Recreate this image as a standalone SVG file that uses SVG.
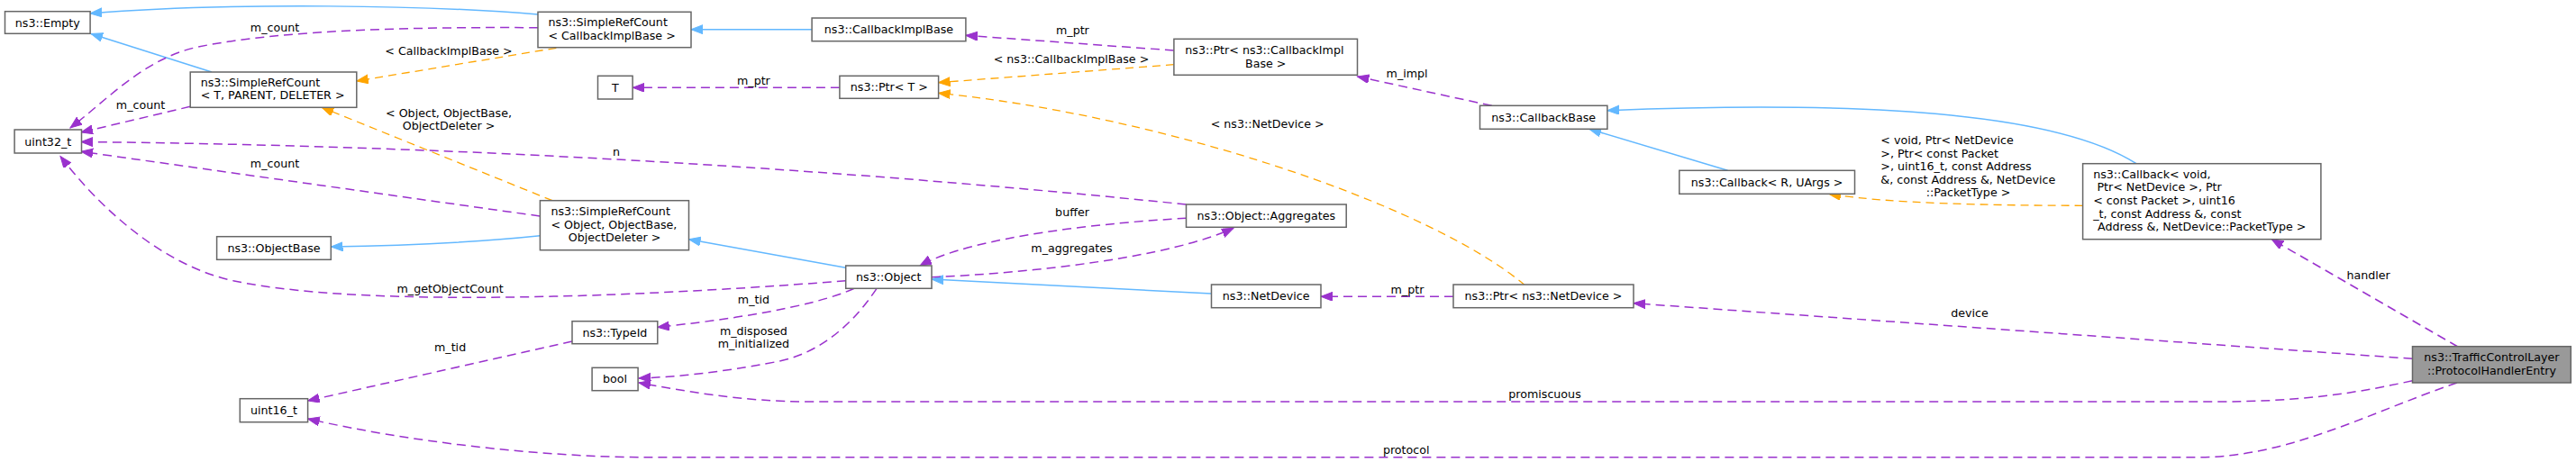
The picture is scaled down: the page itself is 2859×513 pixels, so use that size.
<svg xmlns="http://www.w3.org/2000/svg" width="2859" height="513" viewBox="0 0 2859 513">
<style>
text{font-family:"DejaVu Sans","Liberation Sans",sans-serif;font-size:12.67px;fill:#000}
.c{text-anchor:middle}
.node rect{fill:#fff;stroke:#666;stroke-width:1.5}
#n_traffic rect{fill:#999}
#edges path{fill:none}
.inh{stroke:#63b8ff;stroke-width:1.5;marker-end:url(#ab)}
.use{stroke:#9a32cd;stroke-width:1.5;stroke-dasharray:10,6;marker-end:url(#ap)}
.tpl{stroke:#ffa500;stroke-width:1.3;stroke-dasharray:9,6;marker-end:url(#ao)}
</style>
<defs>
<marker id="ab" markerUnits="userSpaceOnUse" markerWidth="15" markerHeight="11" refX="13" refY="5" orient="auto"><path d="M0,0 L13,5 L0,10 z" fill="#63b8ff" stroke="#63b8ff"/></marker>
<marker id="ap" markerUnits="userSpaceOnUse" markerWidth="15" markerHeight="11" refX="13" refY="5" orient="auto"><path d="M0,0 L13,5 L0,10 z" fill="#9a32cd" stroke="#9a32cd"/></marker>
<marker id="ao" markerUnits="userSpaceOnUse" markerWidth="15" markerHeight="11" refX="13" refY="5" orient="auto"><path d="M0,0 L13,5 L0,10 z" fill="#ffa500" stroke="#ffa500"/></marker>
</defs>
<rect width="2859" height="513" fill="#fff"/>
<g id="edges">
<path class="inh" d="M597,16 C480,6 260,2 100,15"/>
<path class="inh" d="M235,80 L101,37.5"/>
<path class="inh" d="M599.3,261.7 C520,270 440,273 367.5,274"/>
<path class="inh" d="M938.6,297.3 L764.5,265.7"/>
<path class="inh" d="M1344.3,326 L1034,310"/>
<path class="inh" d="M901.1,32.7 L767,32.7"/>
<path class="inh" d="M2371,181.7 C2290,130 2100,110 1784,122.7"/>
<path class="inh" d="M1917.5,189.3 L1764,143.3"/>
<path class="use" d="M597,30.7 C470,30 320,32 220,52 C160,65 120,110 78,142"/>
<path class="use" d="M211,118.3 L90,147"/>
<path class="use" d="M1316.5,227 Q696,163.5 90,157.5"/>
<path class="use" d="M599.3,240 L90,168.3"/>
<path class="use" d="M938.7,311.7 C760,326 420,345 260,312 C180,295 110,230 67,173.5"/>
<path class="use" d="M635,379 L341.6,445"/>
<path class="use" d="M2727,425 C2630,458 2540,507.7 2440,507.7 L720,507.7 C600,507.7 450,490 341.6,465"/>
<path class="use" d="M2677.5,422.7 C2600,440 2540,446 2460,446 L900,446 C820,446 760,434 709,425"/>
<path class="use" d="M973,320.3 C940,370 900,395 860,402 C800,413 760,418 709,420"/>
<path class="use" d="M948,320.3 C900,342 800,356 729.8,363.3"/>
<path class="use" d="M1316.5,242.3 C1230,247 1080,262 1021,295"/>
<path class="use" d="M1034,307.7 C1150,303 1300,285 1369,253.3"/>
<path class="use" d="M1613,329.3 L1466,329.3"/>
<path class="use" d="M2677.5,398.3 L1813,336.7"/>
<path class="use" d="M2727.9,385 L2521.2,265.7"/>
<path class="use" d="M1655.7,117.3 L1506.5,85"/>
<path class="use" d="M1302.9,56 L1071.9,39.3"/>
<path class="use" d="M931.9,97.3 L702.3,97.3"/>
<path class="tpl" d="M617.4,53.3 L395.8,90"/>
<path class="tpl" d="M613,222.7 L357.2,119.3"/>
<path class="tpl" d="M1302.9,71.7 L1041.6,91.7"/>
<path class="tpl" d="M1692.4,316.7 C1590,230 1300,130 1041.6,103.3"/>
<path class="tpl" d="M2311.7,228.3 C2200,228 2100,226 2030,215.5"/>
<text class="c" x="305" y="34.5">m_count</text>
<text class="c" x="156" y="120.5">m_count</text>
<text class="c" x="684" y="172.5">n</text>
<text class="c" x="305" y="186">m_count</text>
<text class="c" x="499.6" y="325">m_getObjectCount</text>
<text class="c" x="499.6" y="389.5">m_tid</text>
<text class="c" x="1560.7" y="504">protocol</text>
<text class="c" x="1714.5" y="442">promiscuous</text>
<text class="c" x="836.4" y="372.2">m_disposed</text>
<text class="c" x="836.4" y="386.2">m_initialized</text>
<text class="c" x="836.4" y="336.8">m_tid</text>
<text class="c" x="1190" y="240">buffer</text>
<text class="c" x="1189.5" y="280">m_aggregates</text>
<text class="c" x="1562" y="325.5">m_ptr</text>
<text class="c" x="2186" y="351.8">device</text>
<text class="c" x="2628.6" y="309.5">handler</text>
<text class="c" x="1561.6" y="86.2">m_impl</text>
<text class="c" x="1190.4" y="37.8">m_ptr</text>
<text class="c" x="836.4" y="93.8">m_ptr</text>
<text class="c" x="498" y="61.2">&lt; CallbackImplBase &gt;</text>
<text class="c" x="498" y="129.5">&lt; Object, ObjectBase,</text>
<text class="c" x="498" y="143.5">ObjectDeleter &gt;</text>
<text class="c" x="1189" y="70.2">&lt; ns3::CallbackImplBase &gt;</text>
<text class="c" x="1406.7" y="141.8">&lt; ns3::NetDevice &gt;</text>
<text x="2087.3" y="160">&lt; void, Ptr&lt; NetDevice</text>
<text x="2087.3" y="174.5">&gt;, Ptr&lt; const Packet</text>
<text x="2087.3" y="189">&gt;, uint16_t, const Address</text>
<text x="2087.3" y="203.5">&amp;, const Address &amp;, NetDevice</text>
<text class="c" x="2184.5" y="218">::PacketType &gt;</text>
</g>
<g id="n_empty" class="node"><rect x="5.5" y="12.7" width="94.6" height="24.6"/><text class="c" x="52.8" y="29.5">ns3::Empty</text></g>
<g id="n_src_cbi" class="node"><rect x="597" y="13.3" width="170" height="39.4"/><text x="608.4" y="28.8">ns3::SimpleRefCount</text><text x="608.4" y="43.6">&lt; CallbackImplBase &gt;</text></g>
<g id="n_src_t" class="node"><rect x="211.2" y="80" width="184.6" height="39.3"/><text x="222.7" y="95.5">ns3::SimpleRefCount</text><text x="222.7" y="110.3">&lt; T, PARENT, DELETER &gt;</text></g>
<g id="n_t" class="node"><rect x="663.5" y="84.3" width="38.6" height="25.7"/><text class="c" x="682.8" y="101.5">T</text></g>
<g id="n_uint32" class="node"><rect x="16.1" y="144" width="74.4" height="26"/><text class="c" x="53.3" y="161.5">uint32_t</text></g>
<g id="n_src_obj" class="node"><rect x="599.4" y="222.7" width="165.1" height="55"/><text x="611.4" y="239">ns3::SimpleRefCount</text><text x="611.4" y="253.7">&lt; Object, ObjectBase,</text><text class="c" x="682" y="268.4">ObjectDeleter &gt;</text></g>
<g id="n_objectbase" class="node"><rect x="240.6" y="262.7" width="126.7" height="25.6"/><text class="c" x="304" y="280">ns3::ObjectBase</text></g>
<g id="n_typeid" class="node"><rect x="635" y="356.7" width="94.8" height="25"/><text class="c" x="682.4" y="373.6">ns3::TypeId</text></g>
<g id="n_bool" class="node"><rect x="657.1" y="408.3" width="51" height="25.4"/><text class="c" x="682.6" y="425.4">bool</text></g>
<g id="n_uint16" class="node"><rect x="266.3" y="442.7" width="75.3" height="26"/><text class="c" x="304" y="460.2">uint16_t</text></g>
<g id="n_cbimplbase" class="node"><rect x="901.1" y="20" width="170.8" height="25.7"/><text class="c" x="986.5" y="37.3">ns3::CallbackImplBase</text></g>
<g id="n_ptr_t" class="node"><rect x="931.9" y="84.3" width="109.7" height="25"/><text class="c" x="986.8" y="101.3">ns3::Ptr&lt; T &gt;</text></g>
<g id="n_ptr_cbi" class="node"><rect x="1302.9" y="43.3" width="203.6" height="40"/><text x="1315.3" y="59.8">ns3::Ptr&lt; ns3::CallbackImpl</text><text class="c" x="1404.7" y="74.6">Base &gt;</text></g>
<g id="n_aggregates" class="node"><rect x="1316.5" y="227" width="177.7" height="25.3"/><text class="c" x="1405.3" y="244">ns3::Object::Aggregates</text></g>
<g id="n_object" class="node"><rect x="938.7" y="295" width="95.3" height="25.3"/><text class="c" x="986.3" y="312">ns3::Object</text></g>
<g id="n_netdevice" class="node"><rect x="1344.5" y="316" width="121.5" height="25.7"/><text class="c" x="1405.2" y="333.2">ns3::NetDevice</text></g>
<g id="n_ptr_nd" class="node"><rect x="1613" y="316" width="200" height="25.7"/><text class="c" x="1713" y="333.2">ns3::Ptr&lt; ns3::NetDevice &gt;</text></g>
<g id="n_cbbase" class="node"><rect x="1642.5" y="117.3" width="141.4" height="26"/><text class="c" x="1713.2" y="134.7">ns3::CallbackBase</text></g>
<g id="n_cb_r" class="node"><rect x="1863.8" y="189.3" width="194.7" height="26"/><text class="c" x="1961.1" y="206.7">ns3::Callback&lt; R, UArgs &gt;</text></g>
<g id="n_cb_void" class="node"><rect x="2311.6" y="181.7" width="264.3" height="84"/><text x="2323.2" y="197.8">ns3::Callback&lt; void,</text><text x="2327.4" y="212.4">Ptr&lt; NetDevice &gt;, Ptr</text><text x="2323.2" y="227">&lt; const Packet &gt;, uint16</text><text x="2323.2" y="241.6">_t, const Address &amp;, const</text><text class="c" x="2443.7" y="256.2">Address &amp;, NetDevice::PacketType &gt;</text></g>
<g id="n_traffic" class="node"><rect x="2677.5" y="384.7" width="175.8" height="40.3"/><text class="c" x="2765.4" y="401.2">ns3::TrafficControlLayer</text><text class="c" x="2765.4" y="416.1">::ProtocolHandlerEntry</text></g>
</svg>
